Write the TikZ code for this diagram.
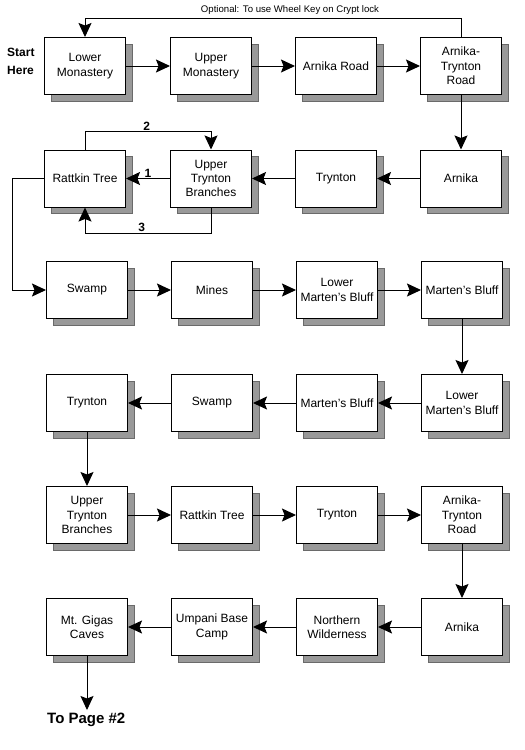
\documentclass[tikz,border=0pt]{standalone}
\usepackage{fontspec}
\setmainfont{Liberation Sans}
\usetikzlibrary{arrows.meta,shadows}
\definecolor{shadowgray}{HTML}{999999}
\definecolor{shadowedge}{HTML}{6A6A6A}
\tikzset{
  place/.style={draw=black, line width=1pt, fill=white, minimum width=81pt, minimum height=57pt,
    inner sep=0pt, align=center, font=\fontsize{12}{14.3}\selectfont,
    drop shadow={shadow xshift=6.5pt, shadow yshift=-6.5pt, opacity=1, fill=shadowgray, draw=shadowedge, line width=1pt}},
  arr/.style={line width=1pt, -{Stealth[length=14pt,width=13pt,inset=2.5pt]}},
  numlbl/.style={font=\bfseries\fontsize{12}{14}\selectfont, inner sep=0pt},
}
\begin{document}
\begin{tikzpicture}[x=1pt,y=-1pt]
\useasboundingbox[fill=white] (0,0) rectangle (525,750);
% row 1
\node[place] (lm) at (85,66) {Lower\\Monastery};
\node[place] (um) at (211,66) {Upper\\Monastery};
\node[place] (ar) at (336,66) {Arnika Road};
\node[place] (atr) at (461,66) {Arnika-\\Trynton\\Road};
% row 2
\node[place] (rt1) at (85,178.5) {Rattkin Tree};
\node[place] (utb1) at (211,178.5) {Upper\\Trynton\\Branches};
\node[place] (tr1) at (336,178.5) {Trynton};
\node[place] (arn1) at (461,178.5) {Arnika};
% row 3
\node[place] (sw1) at (87,290) {Swamp};
\node[place] (mi) at (212,290) {Mines};
\node[place] (lmb1) at (337,290) {Lower\\Marten's Bluff};
\node[place] (mb1) at (462,290) {Marten's Bluff};
% row 4
\node[place] (try2) at (87,403) {Trynton};
\node[place] (sw2) at (212,403) {Swamp};
\node[place] (mb2) at (337,403) {Marten's Bluff};
\node[place] (lmb2) at (462,403) {Lower\\Marten's Bluff};
% row 5
\node[place] (utb2) at (87,515) {Upper\\Trynton\\Branches};
\node[place] (rt2) at (212,515) {Rattkin Tree};
\node[place] (tr3) at (337,515) {Trynton};
\node[place] (atr2) at (462,515) {Arnika-\\Trynton\\Road};
% row 6
\node[place] (mgc) at (87,627) {Mt. Gigas\\Caves};
\node[place] (ubc) at (212,627) {Umpani Base\\Camp};
\node[place] (nw) at (337,627) {Northern\\Wilderness};
\node[place] (arn2) at (462,627) {Arnika};
% texts
\node[align=left, font=\bfseries\fontsize{12}{18}\selectfont, inner sep=0pt, anchor=west] (start) at (7,61) {Start\\Here};
\node[font=\bfseries\fontsize{15}{18}\selectfont, inner sep=0pt, anchor=west] (topage) at (47,720) {To Page \#2};
\node[font=\fontsize{9.6}{11}\selectfont, inner sep=0pt] (opt) at (290,10) {Optional: To use Wheel Key on Crypt lock};
% coordinates
\coordinate (topline) at (0,18);
\coordinate (loop2) at (0,131);
\coordinate (loop3) at (0,233);
\coordinate (leftx) at (12,0);
\coordinate (pageend) at (87,710);
% row 1 connectors
\draw[arr] (lm) -- (um);
\draw[arr] (um) -- (ar);
\draw[arr] (ar) -- (atr);
\draw[arr] (atr.north) -- (atr.north |- topline) -- (lm.north |- topline) -- (lm.north);
\draw[arr] (atr.south) -- (arn1.north);
% row 2
\draw[arr] (arn1) -- (tr1);
\draw[arr] (tr1) -- (utb1);
\draw[arr] (utb1) -- node[numlbl, pos=0.5, yshift=5pt] (n1) {1} (rt1);
\draw[arr] (rt1.north) -- (rt1.north |- loop2) -- node[numlbl, pos=0.49, yshift=5pt] (n2) {2} (utb1.north |- loop2) -- (utb1.north);
\draw[arr] (utb1.south) -- (utb1.south |- loop3) -- node[numlbl, pos=0.55, yshift=6pt] (n3) {3} (rt1.south |- loop3) -- (rt1.south);
\draw[arr] (rt1.west) -- (rt1.west -| leftx) -- (sw1.west -| leftx) -- (sw1.west);
% row 3
\draw[arr] (sw1) -- (mi);
\draw[arr] (mi) -- (lmb1);
\draw[arr] (lmb1) -- (mb1);
\draw[arr] (mb1.south) -- (lmb2.north);
% row 4
\draw[arr] (lmb2) -- (mb2);
\draw[arr] (mb2) -- (sw2);
\draw[arr] (sw2) -- (try2);
\draw[arr] (try2.south) -- (utb2.north);
% row 5
\draw[arr] (utb2) -- (rt2);
\draw[arr] (rt2) -- (tr3);
\draw[arr] (tr3) -- (atr2);
\draw[arr] (atr2.south) -- (arn2.north);
% row 6
\draw[arr] (arn2) -- (nw);
\draw[arr] (nw) -- (ubc);
\draw[arr] (ubc) -- (mgc);
\draw[arr] (mgc.south) -- (pageend);
\end{tikzpicture}
\end{document}
